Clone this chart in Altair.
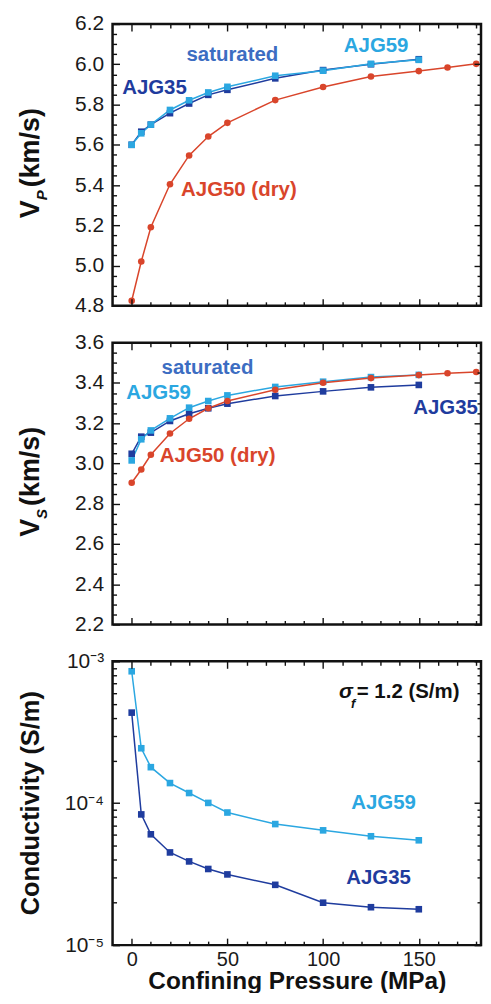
import altair as alt
import pandas as pd

# ---------------- data ----------------
pressure_sat = [0, 5, 10, 20, 30, 40, 50, 75, 100, 125, 150]
pressure_dry = [0, 5, 10, 20, 30, 40, 50, 75, 100, 125, 150, 165, 180]

vp_ajg35 = [5.600, 5.665, 5.700, 5.757, 5.805, 5.848, 5.873, 5.930, 5.971, 6.000, 6.025]
vp_ajg59 = [5.600, 5.657, 5.700, 5.773, 5.821, 5.860, 5.888, 5.943, 5.968, 6.002, 6.022]
vp_ajg50 = [4.825, 5.020, 5.190, 5.404, 5.547, 5.641, 5.709, 5.822, 5.887, 5.939, 5.966, 5.984, 6.002]

vs_ajg35 = [3.048, 3.133, 3.153, 3.211, 3.247, 3.274, 3.297, 3.335, 3.358, 3.378, 3.390]
vs_ajg59 = [3.015, 3.120, 3.164, 3.224, 3.277, 3.310, 3.338, 3.380, 3.406, 3.429, 3.440]
vs_ajg50 = [2.904, 2.970, 3.043, 3.149, 3.222, 3.274, 3.310, 3.366, 3.401, 3.424, 3.439, 3.448, 3.454]

cond_ajg35 = [4.35e-4, 8.34e-5, 6.04e-5, 4.50e-5, 3.89e-5, 3.44e-5, 3.15e-5, 2.66e-5, 1.99e-5, 1.85e-5, 1.79e-5]
cond_ajg59 = [8.51e-4, 2.44e-4, 1.795e-4, 1.387e-4, 1.18e-4, 1.005e-4, 8.6e-5, 7.13e-5, 6.44e-5, 5.85e-5, 5.48e-5]

samples = ["AJG35", "AJG59", "AJG50"]
sample_colors = ["#1F3C9E", "#2BA7E1", "#D9452B"]
sample_shapes = ["square", "square", "circle"]
sample_sizes = [44, 44, 28]
SAT_COLOR = "#3C6DC2"

x_major = [0, 50, 100, 150]
x_minor = [10, 20, 30, 40, 60, 70, 80, 90, 110, 120, 130, 140, 160, 170, 180]
vp_major = [4.8, 5.0, 5.2, 5.4, 5.6, 5.8, 6.0, 6.2]
vs_major = [2.2, 2.4, 2.6, 2.8, 3.0, 3.2, 3.4, 3.6]
cond_major = [1e-5, 1e-4, 1e-3]

X_DOMAIN = [-10, 182.5]
FONT = "Liberation Sans"
W = 370
MAJ, MIN = 7, 4


def minor_lin(lo, n):
    return [round(lo + 0.05 * i, 2) for i in range(n) if i % 4 != 0]


vp_minor = minor_lin(4.8, 29)
vs_minor = minor_lin(2.2, 29)
cond_minor = [k * 10.0 ** e for e in (-5, -4) for k in range(2, 10)]


def long_df(series):
    rows = []
    for name, xs, ys in series:
        for x, y in zip(xs, ys):
            rows.append({"p": x, "v": y, "s": name})
    return pd.DataFrame(rows)


def tick_axis(orient, size, values, **extra):
    opts = dict(orient=orient, offset=-size, tickSize=size, values=values,
                domain=False, grid=False, labels=False, tickColor="#111111",
                tickWidth=1.4, minExtent=0, title=None, zindex=2)
    opts.update(extra)
    return alt.Axis(**opts)


def panel(df, ydom, ytype, ymaj, ymin, ylab, show_x, height, notes, titles):
    xs = alt.Scale(domain=X_DOMAIN, nice=False, zero=False)
    ys = alt.Scale(domain=ydom, nice=False, zero=False, type=ytype)
    col = alt.Color("s:N", scale=alt.Scale(domain=samples, range=sample_colors), legend=None)

    xb_extra = dict(labels=show_x, labelFontSize=20, labelPadding=4, labelOverlap=False)
    if show_x:
        xb_extra.update(title="Confining Pressure (MPa)", titleFontSize=24.5,
                        titleFontWeight="bold", titleFont=FONT, titlePadding=1,
                        titleColor="#111111")
    yl_extra = dict(labels=True, labelFontSize=21, labelPadding=9, labelOverlap=False)
    yl_extra.update(ylab)

    base = alt.Chart(df)
    lines = base.mark_line(strokeWidth=1.5).encode(
        x=alt.X("p:Q", scale=xs, axis=tick_axis("bottom", MAJ, x_major, **xb_extra)),
        y=alt.Y("v:Q", scale=ys, axis=tick_axis("left", MAJ, ymaj, **yl_extra)),
        color=col, detail="s:N",
    )
    points = base.mark_point(filled=True, opacity=1).encode(
        x=alt.X("p:Q", scale=xs, axis=tick_axis("bottom", MIN, x_minor)),
        y=alt.Y("v:Q", scale=ys, axis=tick_axis("left", MIN, ymin)),
        color=col,
        shape=alt.Shape("s:N", scale=alt.Scale(domain=samples, range=sample_shapes), legend=None),
        size=alt.Size("s:N", scale=alt.Scale(domain=samples, range=sample_sizes), legend=None),
    )
    carrier1 = base.mark_point(opacity=0).encode(
        x=alt.X("p:Q", scale=xs, axis=tick_axis("top", MAJ, x_major)),
        y=alt.Y("v:Q", scale=ys, axis=tick_axis("right", MAJ, ymaj)),
    )
    carrier2 = base.mark_point(opacity=0).encode(
        x=alt.X("p:Q", scale=xs, axis=tick_axis("top", MIN, x_minor)),
        y=alt.Y("v:Q", scale=ys, axis=tick_axis("right", MIN, ymin)),
    )
    layers = [lines, points, carrier1, carrier2]
    for n in notes:
        mk = dict(font=FONT, fontSize=n.get("size", 20.5), fontWeight="bold",
                  color=n["color"], align=n.get("align", "center"), baseline="middle")
        if n.get("italic"):
            mk["fontStyle"] = "italic"
        layers.append(
            alt.Chart(pd.DataFrame([{"x": n["x"], "y": n["y"], "t": n["text"]}]))
            .mark_text(**mk)
            .encode(x=alt.X("x:Q", scale=xs, axis=None),
                    y=alt.Y("y:Q", scale=ys, axis=None),
                    text="t:N")
        )
    for t in titles:
        mk = dict(font=FONT, fontSize=t.get("size", 27), fontWeight="bold", color="#111111",
                  angle=270, align=t.get("align", "left"), baseline="alphabetic")
        if t.get("italic"):
            mk["fontStyle"] = "italic"
        layers.append(
            alt.Chart(pd.DataFrame([{"t": t["text"]}]))
            .mark_text(**mk)
            .encode(x=alt.value(t["px"]), y=alt.value(t["py"]), text="t:N")
        )
    return (alt.layer(*layers)
            .resolve_axis(x="independent", y="independent")
            .properties(width=W, height=height))


df_vp = long_df([("AJG35", pressure_sat, vp_ajg35), ("AJG59", pressure_sat, vp_ajg59),
                 ("AJG50", pressure_dry, vp_ajg50)])
df_vs = long_df([("AJG35", pressure_sat, vs_ajg35), ("AJG59", pressure_sat, vs_ajg59),
                 ("AJG50", pressure_dry, vs_ajg50)])
df_c = long_df([("AJG35", pressure_sat, cond_ajg35), ("AJG59", pressure_sat, cond_ajg59)])

notes_vp = [
    {"x": 52.6, "y": 6.045, "text": "saturated", "color": SAT_COLOR},
    {"x": 127.7, "y": 6.09, "text": "AJG59", "color": sample_colors[1]},
    {"x": 11.9, "y": 5.883, "text": "AJG35", "color": sample_colors[0]},
    {"x": 56.0, "y": 5.377, "text": "AJG50 (dry)", "color": sample_colors[2]},
]
notes_vs = [
    {"x": 39.6, "y": 3.476, "text": "saturated", "color": SAT_COLOR},
    {"x": 14.0, "y": 3.348, "text": "AJG59", "color": sample_colors[1]},
    {"x": 164.0, "y": 3.274, "text": "AJG35", "color": sample_colors[0]},
    {"x": 44.9, "y": 3.037, "text": "AJG50 (dry)", "color": sample_colors[2]},
]
notes_c = [
    {"x": 108.3, "y": 6.07e-4, "text": "σ", "color": "#111111", "align": "left", "italic": True, "size": 21},
    {"x": 114.6, "y": 5.0e-4, "text": "f", "color": "#111111", "align": "left", "italic": True, "size": 13},
    {"x": 117.6, "y": 6.07e-4, "text": "= 1.2 (S/m)", "color": "#111111", "align": "left", "size": 20.5},
    {"x": 131.6, "y": 1.005e-4, "text": "AJG59", "color": sample_colors[1]},
    {"x": 129.0, "y": 2.97e-5, "text": "AJG35", "color": sample_colors[0]},
]


def v_title(sub):
    return [
        {"text": "V", "px": -74, "py": 195},
        {"text": sub, "px": -66, "py": 177, "size": 15, "italic": True},
        {"text": "(km/s)", "px": -74, "py": 164},
    ]


H1, H2, H3 = 283, 283, 285
p1 = panel(df_vp, [4.8, 6.2], "linear", vp_major, vp_minor, {"format": ".1f"}, False, H1,
           notes_vp, v_title("P"))
p2 = panel(df_vs, [2.2, 3.6], "linear", vs_major, vs_minor, {"format": ".1f"}, False, H2,
           notes_vs, v_title("S"))
p3 = panel(df_c, [1e-5, 1e-3], "log", cond_major, cond_minor,
           {"labelExpr": "'10' + (datum.value < 5e-5 ? '⁻⁵' : (datum.value < 5e-4 ? '⁻⁴' : '⁻³'))"},
           True, H3, notes_c,
           [{"text": "Conductivity (S/m)", "px": -74, "py": H3 / 2, "size": 25.5, "align": "center"}])

chart = (
    alt.vconcat(p1, p2, p3, spacing=37, bounds="flush")
    .properties(padding={"left": 7, "top": 1, "right": 0, "bottom": -4}, background="white")
    .configure_view(stroke="#111111", strokeWidth=2.5)
    .configure_axis(labelFont=FONT, labelColor="#1a1a1a", titleFont=FONT)
)

chart.save("out.html", embed_options={"renderer": "svg", "actions": False})
